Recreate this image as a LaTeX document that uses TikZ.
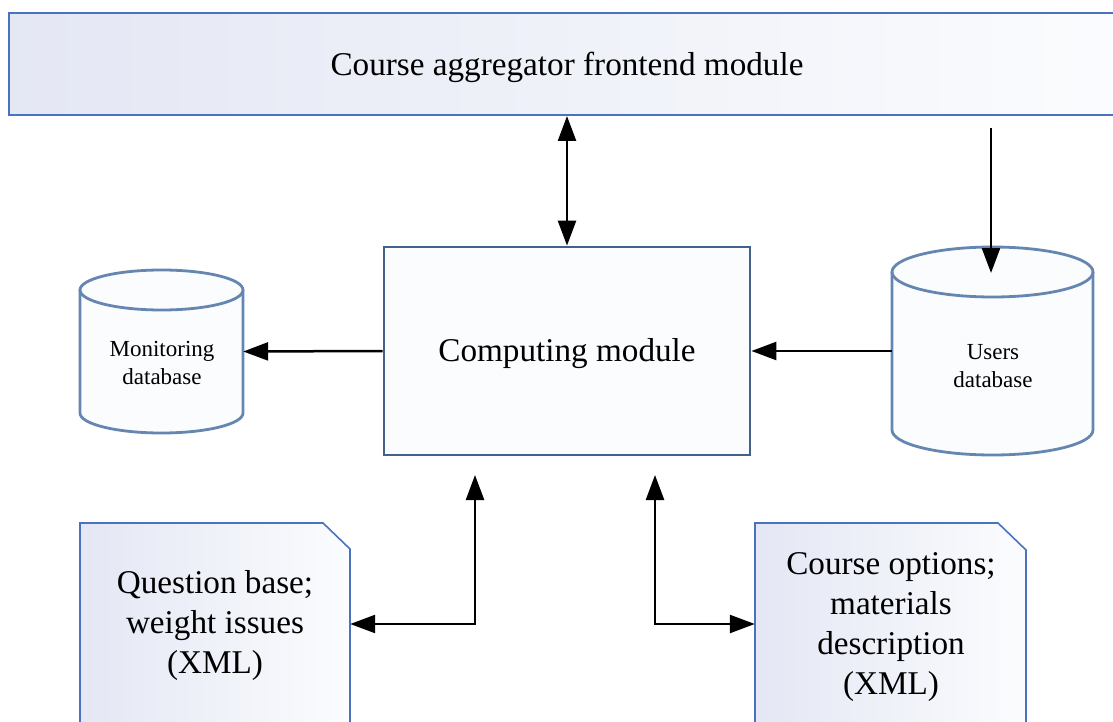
\documentclass[tikz,border=0pt]{standalone}
\usepackage{fontspec}
\setmainfont{Liberation Serif}
\newfontfamily\timesface{Liberation Serif}
\usetikzlibrary{arrows.meta,calc}

\definecolor{frameblue}{HTML}{4A72BE}
\definecolor{boxblue}{HTML}{41638A}
\definecolor{dbblue}{HTML}{6586B0}
\definecolor{lavender}{HTML}{E4E7F4}
\definecolor{paper}{HTML}{FBFCFE}

\tikzset{
  big/.style={font=\timesface\fontsize{33.2}{40}\selectfont, align=center, text=black},
  small/.style={font=\timesface\fontsize{23}{28.5}\selectfont, align=center, text=black},
  link/.style={line width=2.5pt, draw=black, arrows={-Triangle[length=25pt,width=18pt]}},
  twoway/.style={line width=2.5pt, draw=black,
    arrows={Triangle[length=25pt,width=18pt]-Triangle[length=25pt,width=18pt]}},
  dbline/.style={draw=dbblue, line width=2.8pt},
  docline/.style={draw=frameblue, line width=1.6pt},
  anchorbox/.style={draw=none, fill=none, inner sep=0pt},
}

\begin{document}
\begin{tikzpicture}[x=1pt,y=-1pt]
\clip (0,0) rectangle (1113,722);
\fill[white] (0,0) rectangle (1113,722);

% frontend module bar
\node[anchorbox, minimum width=1116pt, minimum height=102pt,
      draw=frameblue, line width=2pt,
      shade, shading angle=45, left color=lavender, right color=paper]
      (front) at (567,64) {};
\node[big] (fronttext) at (567,67) {Course aggregator frontend module};

% computing module
\node[anchorbox, minimum width=366pt, minimum height=208pt,
      draw=boxblue, line width=2.8pt, fill=paper]
      (comp) at (567,351) {};
\node[big] (comptext) at (567,354) {Computing module};

% monitoring database cylinder (y axis points down)
\fill[paper] (80,290) -- (80,413) arc[start angle=180,end angle=0,x radius=81.5,y radius=20]
  -- (243,290) arc[start angle=0,end angle=-180,x radius=81.5,y radius=20] -- cycle;
\draw[dbline] (80,290) -- (80,413) arc[start angle=180,end angle=0,x radius=81.5,y radius=20]
  -- (243,290);
\draw[dbline] (161.5,290) ellipse[x radius=81.5,y radius=20];
\node[anchorbox, minimum width=163pt, minimum height=163pt] (mon) at (161.5,351.5) {};
\node[small] (montext) at (162,363) {Monitoring\\database};

% users database cylinder
\fill[paper] (892,272) -- (892,430) arc[start angle=180,end angle=0,x radius=100.5,y radius=25]
  -- (1093,272) arc[start angle=0,end angle=-180,x radius=100.5,y radius=25] -- cycle;
\draw[dbline] (892,272) -- (892,430) arc[start angle=180,end angle=0,x radius=100.5,y radius=25]
  -- (1093,272);
\draw[dbline] (992.5,272) ellipse[x radius=100.5,y radius=25];
\node[anchorbox, minimum width=201pt, minimum height=208pt] (users) at (992.5,351) {};
\coordinate (userstop) at (991,273);
\node[small] (userstext) at (993,366) {Users\\database};

% question base document
\path[docline, shade, shading angle=45, left color=lavender, right color=paper]
  (80,740) -- (80,523) -- (323,523) -- (350,549) -- (350,740) -- cycle;
\node[anchorbox, minimum width=270pt, minimum height=120pt] (qdoc) at (215,624) {};
\node[big] (qtext) at (215,626) {Question base;\\weight issues\\(XML)};

% course options document
\path[docline, shade, shading angle=45, left color=lavender, right color=paper]
  (755,740) -- (755,523) -- (998,523) -- (1026,550) -- (1026,740) -- cycle;
\node[anchorbox, minimum width=271pt, minimum height=120pt] (cdoc) at (890.5,624) {};
\node[big] (ctext) at (891,627) {Course options;\\materials\\description\\(XML)};

% connectors
\coordinate (frontdrop) at (991,128);
\coordinate (qtip) at (475,475);
\coordinate (ctip) at (655,475);

\draw[twoway] (comp.north) -- (comp.north |- front.south);
\draw[link] (frontdrop) -- (userstop);
\draw[link] (comp.west) -- (mon.east);
\draw[link] (users.west) -- (comp.east);
\draw[twoway] (qdoc.east) -| (qtip);
\draw[twoway] (ctip) |- (cdoc.west);
\end{tikzpicture}
\end{document}
